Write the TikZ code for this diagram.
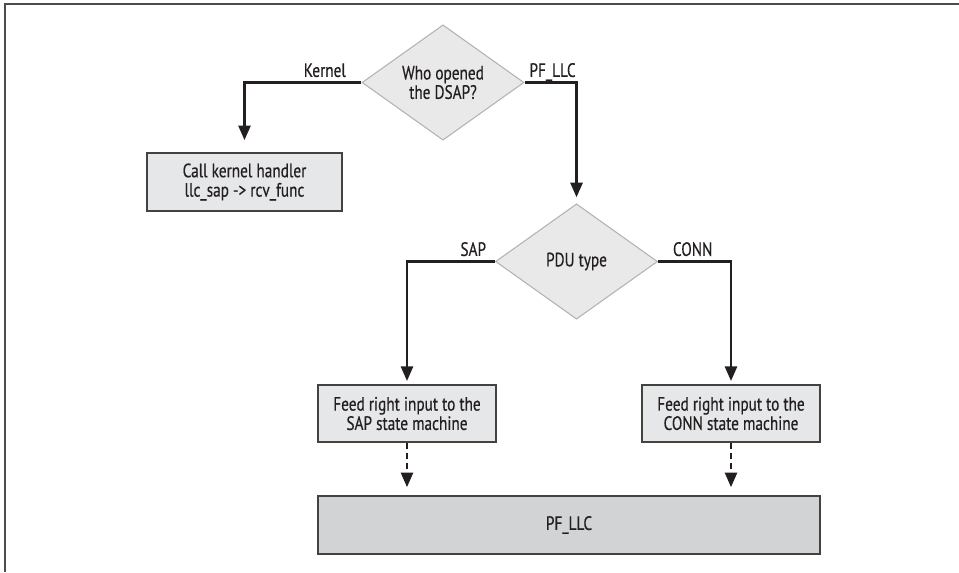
\documentclass[tikz,border=0pt]{standalone}
\usepackage{fontspec}
\setmainfont{PT Sans}[FakeStretch=0.79, FakeBold=0.4]
\usepackage{xcolor}
\usetikzlibrary{shapes.geometric,arrows.meta,positioning}

\definecolor{boxgray}{HTML}{E6E7E8}
\definecolor{basegray}{HTML}{D1D3D4}
\definecolor{diamondgray}{HTML}{E9E9EA}
\definecolor{rimgray}{HTML}{B3B3B3}
\definecolor{inkblack}{HTML}{231F20}
\definecolor{framegray}{HTML}{4D4D4D}

\begin{document}
\begin{tikzpicture}[
    x=0.75pt, y=-0.75pt,
    every node/.style={font=\fontsize{14.5}{14.5}\selectfont, text=inkblack},
    decision/.style={diamond, draw=rimgray, line width=0.8pt, fill=diamondgray, inner sep=0pt, minimum width=121.5pt, minimum height=86.5pt, align=center},
    task/.style={rectangle, draw=inkblack!85, line width=1.2pt, fill=boxgray, align=center, minimum height=43pt},
    flow/.style={-{Triangle[length=11pt,width=9pt]}, line width=2pt, draw=inkblack},
    feed/.style={flow, dash pattern=on 4.5pt off 3pt},
    choice/.style={inner sep=1pt, text depth=0pt}
]
\useasboundingbox (0,0) rectangle (959,572);

% Frame
\draw[framegray, line width=1.5pt] (4.5,572) |- (959,3.5);

% Who opened the DSAP
\node[decision] (dsap) at (443,82.5) {Who opened\\the DSAP?};

% Kernel branch
\node[task, minimum width=146pt, minimum height=43.5pt] (kernel) at (244.5,182) {Call kernel handler\\llc\_sap -> rcv\_func};

% PDU type
\node[decision] (pdu) at (576.5,261.5) {PDU type};

% State machines
\node[task, minimum width=133.5pt] (sapfeed) at (407,413.5) {Feed right input to the\\SAP state machine};
\node[task, minimum width=133.5pt] (connfeed) at (731,413.5) {Feed right input to the\\CONN state machine};

% Bottom block
\node[task, fill=basegray, minimum width=376.5pt, minimum height=43.5pt] (pfllc) at (569,525) {PF\_LLC};

% Branch labels
\node[choice, above left=3pt and 10.5pt of dsap.west] (kernellbl) {Kernel};
\node[choice, above right=3pt and 2.5pt of dsap.east] (llclbl) {PF\_LLC};
\node[choice, above left=3pt and 5.5pt of pdu.west] (saplbl) {SAP};
\node[choice, above right=3pt and 10pt of pdu.east] (connlbl) {CONN};

% Arrows
\draw[flow, shorten >=9pt] (dsap.west) -| (kernel.north);
\draw[flow, shorten >=4.5pt] (dsap.east) -| (pdu.north);
\draw[flow, shorten >=2.25pt] (pdu.west) -| (sapfeed.north);
\draw[flow, shorten >=2.25pt] (pdu.east) -| (connfeed.north);
\draw[feed, shorten >=6pt] (sapfeed.south) -- (sapfeed.south |- pfllc.north);
\draw[feed, shorten >=6pt] (connfeed.south) -- (connfeed.south |- pfllc.north);

\end{tikzpicture}
\end{document}
